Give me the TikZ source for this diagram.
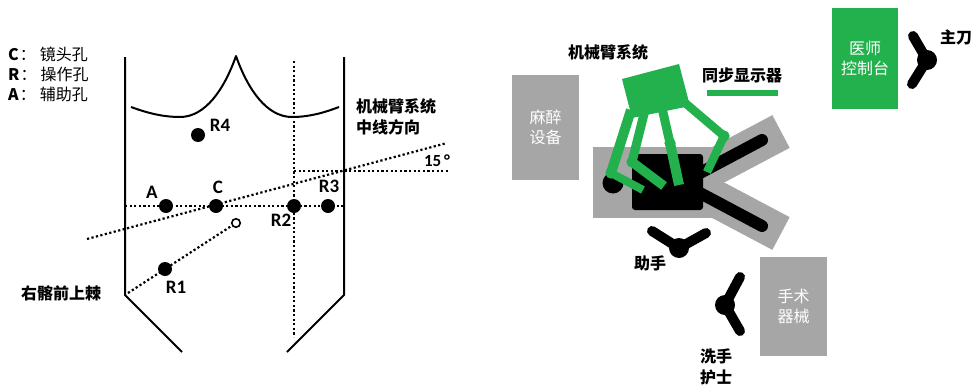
\documentclass[tikz,border=0pt]{standalone}
\usepackage{fontspec}
\setmainfont{Carlito}[BoldFont={Carlito Bold}]
\newfontfamily\cjk{Noto Sans CJK SC}
\definecolor{robotgreen}{RGB}{34,177,76}
\definecolor{boxgray}{RGB}{166,166,166}
\tikzset{
  outline/.style={line width=2pt, line join=round},
  dotline/.style={line width=2.2pt, dash pattern=on 2.2pt off 2.4pt},
  port/.style={circle, fill=black, inner sep=0pt, minimum size=14pt},
  latlbl/.style={font=\fontsize{19}{19}\selectfont\bfseries, inner sep=0pt},
  legend/.style={font=\cjk\fontsize{16}{20}\selectfont, inner sep=0pt, anchor=west},
  cjklbl/.style={font=\cjk\fontsize{16}{21}\selectfont\bfseries, inner sep=0pt, align=left},
  boxtxt/.style={font=\cjk\fontsize{16}{20}\selectfont, text=white, align=center, inner sep=0pt},
  armseg/.style={robotgreen, line cap=butt},
  joint/.style={circle, fill=robotgreen, inner sep=0pt, minimum size=11pt},
  staff/.style={line width=10pt, line cap=round, line join=round},
  headdot/.style={circle, fill=black, inner sep=0pt, minimum size=20pt},
}
\begin{document}
\begin{tikzpicture}[x=1pt, y=-1pt]
\useasboundingbox (0,0) rectangle (973,388);

% ---------- port layout ----------
\node[legend] (legC) at (8,54) {\textbf{C}\hspace{1pt}：\hspace{4pt}镜头孔};
\node[legend] (legR) at (8,74) {\textbf{R}\hspace{1pt}：\hspace{4pt}操作孔};
\node[legend] (legA) at (8,94) {\textbf{A}\hspace{1pt}：\hspace{4pt}辅助孔};

% trunk outline
\draw[outline] (125,57) -- (125,295) -- (182,352);
\draw[outline] (344,57) -- (344,295) -- (287,352);
\draw[outline] (131,107) .. controls (150,114) and (165,117) .. (180,117)
  .. controls (205,117) and (224,90) .. (236,56)
  .. controls (248,90) and (267,117) .. (292,117)
  .. controls (310,117) and (326,112) .. (339,107);

% reference coordinates
\coordinate (hl) at (125,206);
\coordinate (hr) at (344,206);
\coordinate (vt) at (294,61);
\coordinate (vb) at (294,337);
\coordinate (ml) at (87,239);
\coordinate (mr) at (447,143);
\coordinate (al) at (294,171);
\coordinate (ar) at (450,171);
\coordinate (asis) at (128,293);
\node[circle, draw, line width=1.6pt, inner sep=0pt, minimum size=8.5pt] (O) at (236,223) {};

% dotted guide lines
\draw[dotline] (hl) -- (hr);
\draw[dotline] (vt) -- (vb);
\draw[dotline] (ml) -- (mr);
\draw[dotline] (al) -- (ar);
\draw[dotline] (asis) -- (O);

% ports
\node[port] (A) at (166,206) {};
\node[port] (C) at (216,206) {};
\node[port] (R2) at (294,206) {};
\node[port] (R3) at (328,206) {};
\node[port] (R4) at (198,135) {};
\node[port] (R1) at (165,269) {};

\node[latlbl] (tA) at (152,192) {A};
\node[latlbl] (tC) at (218,187) {C};
\node[latlbl] (tR2) at (281,220) {R2};
\node[latlbl] (tR3) at (329,186) {R3};
\node[latlbl] (tR4) at (220,125) {R4};
\node[latlbl] (tR1) at (176,287) {R1};
\node[latlbl, font=\fontsize{17}{17}\selectfont\bfseries] (deg) at (437,161) {15\,°};

\node[cjklbl, anchor=west] (mid) at (356,117) {机械臂系统\\中线方向};
\node[cjklbl, anchor=west] (asisl) at (21,293) {右髂前上棘};

% ---------- operating room layout ----------
% equipment boxes
\node[fill=boxgray, minimum width=67pt, minimum height=105pt, inner sep=0pt] (anes) at (545.5,127.5) {};
\node[boxtxt] at (anes) {麻醉\\设备};
\node[fill=boxgray, minimum width=67pt, minimum height=99pt, inner sep=0pt] (instr) at (793.5,306.5) {};
\node[boxtxt] at (instr) {手术\\器械};
\node[fill=robotgreen, minimum width=66pt, minimum height=101pt, inner sep=0pt] (console) at (865,58) {};
\node[boxtxt] at (console) {医师\\控制台};

% operating table with leg boards
\fill[boxgray] (593,147) rectangle (712,218);
\draw[boxgray, line width=37pt] (701.5,173.6) -- (781,131.5);
\draw[boxgray, line width=37pt] (701.5,191.4) -- (781,233.5);

% patient
\draw[line width=12pt, line cap=round] (700,173) -- (762,140);
\draw[line width=12pt, line cap=round] (700,193) -- (762,226);
\fill[rounded corners=3pt] (632,154) rectangle (703,210);
\node[headdot, minimum size=21pt] (head) at (613,183) {};

% robotic arm system
\fill[robotgreen] (622,79) -- (679,64) -- (690,106) -- (632,118) -- cycle;
\node[joint] (j1) at (611,173) {};
\node[joint] (j2) at (632,162) {};
\node[joint] (j3) at (670,143) {};
\node[joint] (j4) at (724,136) {};
\coordinate (b1) at (631,110);
\coordinate (b2) at (645,110);
\coordinate (b3) at (662,108);
\coordinate (b4) at (684,102);
\coordinate (e1) at (643,190);
\coordinate (e2) at (664,186);
\coordinate (e3) at (679,185);
\coordinate (e4) at (707,172);
\draw[armseg, line width=10pt] (b1) -- (j1.center);
\draw[armseg, line width=9pt] (b2) -- (j2.center);
\draw[armseg, line width=9pt] (b3) -- (j3.center);
\draw[armseg, line width=8.5pt] (b4) -- (j4.center);
\draw[armseg, line width=8pt] (j1.center) -- (e1);
\draw[armseg, line width=9.5pt] (j2.center) -- (e2);
\draw[armseg, line width=10pt] (j3.center) -- (e3);
\draw[armseg, line width=8.5pt] (j4.center) -- (e4);
\node[joint] at (j1) {};
\node[joint] at (j2) {};
\node[joint] at (j3) {};
\node[joint] at (j4) {};
\node[cjklbl, align=center] (armlbl) at (608,52) {机械臂系统};

% synchronised display
\coordinate (dl) at (707,93);
\coordinate (dr) at (778,93);
\draw[robotgreen, line width=6pt] (dl) -- (dr);
\node[cjklbl, align=center] (displbl) at (742,75) {同步显示器};

% staff (top view)
\node[headdot] (surg) at (927,60) {};
\coordinate (surgA) at (913,36);
\coordinate (surgB) at (912,84);
\draw[staff] (surgA) -- (surg.center) -- (surgB);
\node[cjklbl, align=center] (surglbl) at (956,37) {主刀};

\node[headdot] (asst) at (679,248) {};
\coordinate (asstA) at (652,231);
\coordinate (asstB) at (706,233);
\draw[staff] (asstA) -- (asst.center) -- (asstB);
\node[cjklbl, align=center] (asstlbl) at (650,263) {助手};

\node[headdot] (nurse) at (725,305) {};
\coordinate (nurseA) at (740,277);
\coordinate (nurseB) at (740,331);
\draw[staff] (nurseA) -- (nurse.center) -- (nurseB);
\node[cjklbl, align=center] (nurselbl) at (716,367) {洗手\\护士};
\end{tikzpicture}
\end{document}
